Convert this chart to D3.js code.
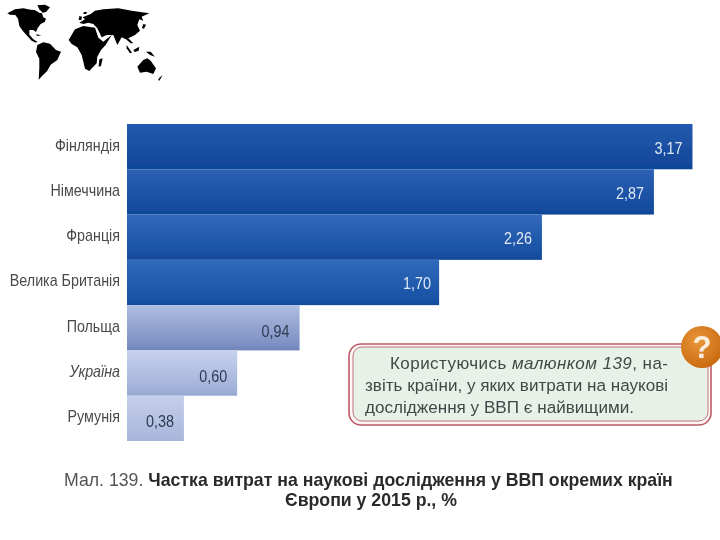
<!DOCTYPE html>
<html>
<head>
<meta charset="utf-8">
<script src="https://cdn.jsdelivr.net/npm/d3@7"></script>
<style>
  html, body { margin: 0; padding: 0; background: #fff; }
  text { font-family: "Liberation Sans", Arial, sans-serif; }
</style>
</head>
<body>
<div id="chart"></div>
<script>
const countries = ["Фінляндія", "Німеччина", "Франція", "Велика Британія", "Польща", "Україна", "Румунія"];
const valueLabels = ["3,17", "2,87", "2,26", "1,70", "0,94", "0,60", "0,38"];
// bar lengths as they are drawn in the picture, the printed bars are not exactly to scale
const drawnLengths = [3.08, 2.87, 2.26, 1.70, 0.94, 0.60, 0.31];
const topColors = ["#245aae", "#2c60b4", "#3369ba", "#3169ba", "#aebde0", "#c8d2ee", "#c5cfeb"];
const bottomColors = ["#0d4496", "#0e4699", "#10489c", "#134ca0", "#6f84ba", "#96a7d1", "#a6b4d8"];
const calloutLines = ["звіть країни, у яких витрати на наукові", "дослідження у ВВП є найвищими."];

// world map silhouette, outlines at 3x
const land = [
  [[22,40],[45,28],[70,25],[92,29],[104,30],[118,38],[126,40],[130,52],[138,56],[134,66],[122,72],[113,84],[108,96],[100,90],[88,90],[88,104],[100,118],[112,125],[108,128],[95,122],[80,106],[68,92],[58,78],[54,56],[46,45],[30,44]],
  [[112,16],[135,14],[150,22],[138,36],[128,38],[118,28]],
  [[112,135],[130,127],[150,131],[168,150],[183,155],[172,180],[152,194],[141,214],[126,228],[116,239],[118,205],[118,176],[108,156]],
  [[206,120],[225,88],[250,78],[285,83],[295,113],[310,125],[335,105],[317,135],[303,150],[292,170],[290,190],[268,213],[255,206],[245,165],[232,142],[215,132]],
  [[238,68],[255,58],[248,52],[272,42],[285,32],[310,28],[355,25],[395,32],[448,40],[425,50],[430,62],[418,58],[412,75],[420,92],[405,105],[385,115],[400,130],[392,130],[378,118],[365,112],[352,135],[340,105],[320,105],[305,112],[292,85],[280,72],[265,68],[250,72]],
  [[412,200],[430,180],[442,175],[452,182],[468,205],[460,222],[440,215],[420,218]],
  [[438,155],[452,155],[465,170],[450,165]],
  [[380,135],[396,158],[390,160],[380,145]],
  [[400,150],[418,140],[416,152],[404,156]],
  [[298,178],[308,175],[303,198],[296,200]],
  [[430,72],[438,74],[432,86],[426,84]],
  [[238,48],[246,50],[244,60],[236,60]],
  [[252,36],[262,36],[258,42],[250,42]],
  [[108,103],[124,106],[112,108]],
  [[480,232],[488,226],[478,242],[474,240]]
];

const width = 720, height = 540;
const margin = { left: 127, top: 124, bottom: 99 };

const svg = d3.select("#chart").append("svg")
  .attr("width", width).attr("height", height)
  .style("display", "block");

const defs = svg.append("defs");
defs.append("filter").attr("id", "soft")
  .append("feGaussianBlur").attr("stdDeviation", 0.5);

// map
const lineGen = d3.line().curve(d3.curveLinearClosed);
svg.append("g")
  .attr("transform", "scale(0.3333)")
  .selectAll("path")
  .data(land)
  .join("path")
  .attr("d", d => lineGen(d))
  .attr("fill", "#000");

const x = d3.scaleLinear().domain([0, 1]).range([margin.left, margin.left + 183.6]);
const y = d3.scaleBand().domain(countries).range([margin.top, height - margin.bottom]);

countries.forEach((c, i) => {
  const g = defs.append("linearGradient").attr("id", "bar" + i)
    .attr("x1", 0).attr("y1", 0).attr("x2", 0).attr("y2", 1);
  g.append("stop").attr("offset", "0%").attr("stop-color", topColors[i]);
  g.append("stop").attr("offset", "88%").attr("stop-color", d3.interpolateRgb(topColors[i], bottomColors[i])(0.8));
  g.append("stop").attr("offset", "100%").attr("stop-color", bottomColors[i]);
});

const chart = svg.append("g").attr("filter", "url(#soft)");

chart.selectAll("rect.bar")
  .data(countries)
  .join("rect")
  .attr("class", "bar")
  .attr("x", x(0))
  .attr("y", d => y(d))
  .attr("width", (d, i) => x(drawnLengths[i]) - x(0))
  .attr("height", y.bandwidth())
  .attr("fill", (d, i) => `url(#bar${i})`);

// country names
chart.selectAll("text.name")
  .data(countries)
  .join("text")
  .attr("class", "name")
  .attr("x", x(0) - 7)
  .attr("y", d => y(d) + y.bandwidth() / 2 - 2)
  .attr("dy", "0.35em")
  .attr("text-anchor", "end")
  .attr("font-size", 17)
  .attr("fill", "#4a4a4a")
  .attr("font-style", d => d === "Україна" ? "italic" : "normal")
  .text(d => d)
  .each(function () {
    // printed labels are narrower than the screen font
    d3.select(this).attr("textLength", this.getComputedTextLength() * 0.84)
      .attr("lengthAdjust", "spacingAndGlyphs");
  });

// values
chart.selectAll("text.value")
  .data(countries)
  .join("text")
  .attr("class", "value")
  .attr("x", (d, i) => x(drawnLengths[i]) - (d === "Велика Британія" ? 8 : 10))
  .attr("y", (d, i) => y(d) + y.bandwidth() / 2 + (i < 4 ? 1 : 3))
  .attr("dy", "0.35em")
  .attr("text-anchor", "end")
  .attr("font-size", 17)
  .attr("fill", (d, i) => i < 4 ? "#dfe8f5" : "#2f3b52")
  .text((d, i) => valueLabels[i])
  .attr("textLength", 28)
  .attr("lengthAdjust", "spacingAndGlyphs");

// callout box
const box = svg.append("g").attr("filter", "url(#soft)");
box.append("rect")
  .attr("x", 349).attr("y", 344).attr("width", 362).attr("height", 81).attr("rx", 12)
  .attr("fill", "#fdf6f4").attr("stroke", "#bd5b68").attr("stroke-width", 1.6);
box.append("rect")
  .attr("x", 353).attr("y", 347).attr("width", 355).attr("height", 74).attr("rx", 9)
  .attr("fill", "#e8f1e8").attr("stroke", "#c2707c").attr("stroke-width", 1);

const firstLine = box.append("text")
  .attr("x", 390).attr("y", 369).attr("font-size", 17).attr("fill", "#3f4a48")
  .attr("textLength", 278);
firstLine.append("tspan").text("Користуючись ");
firstLine.append("tspan").attr("font-style", "italic").text("малюнком  139");
firstLine.append("tspan").text(", на-");

box.selectAll("text.line")
  .data(calloutLines)
  .join("text")
  .attr("class", "line")
  .attr("x", 365)
  .attr("y", (d, i) => 391 + i * 22)
  .attr("font-size", 17.1)
  .attr("fill", "#3f4a48")
  .text(d => d);

const ballGrad = defs.append("radialGradient").attr("id", "ball")
  .attr("cx", "40%").attr("cy", "35%").attr("r", "70%");
ballGrad.append("stop").attr("offset", "0%").attr("stop-color", "#e8963a");
ballGrad.append("stop").attr("offset", "100%").attr("stop-color", "#c9680f");

box.append("circle")
  .attr("cx", 702).attr("cy", 347).attr("r", 21)
  .attr("fill", "url(#ball)");
box.append("text")
  .attr("x", 702).attr("y", 358)
  .attr("text-anchor", "middle")
  .attr("font-size", 31).attr("font-weight", "bold")
  .attr("fill", "#fbeedd")
  .text("?");

// caption
const caption = svg.append("g").attr("filter", "url(#soft)");
const cap1 = caption.append("text")
  .attr("x", 64).attr("y", 486).attr("font-size", 17.7).attr("fill", "#2a2a2a");
cap1.append("tspan").attr("fill", "#555").text("Мал. 139. ");
cap1.append("tspan").attr("font-weight", "bold").text("Частка витрат на наукові дослідження у ВВП окремих країн");
caption.append("text")
  .attr("x", 371).attr("y", 506)
  .attr("text-anchor", "middle")
  .attr("font-size", 17.7).attr("font-weight", "bold").attr("fill", "#2a2a2a")
  .text("Європи у 2015 р., %");
</script>
</body>
</html>
